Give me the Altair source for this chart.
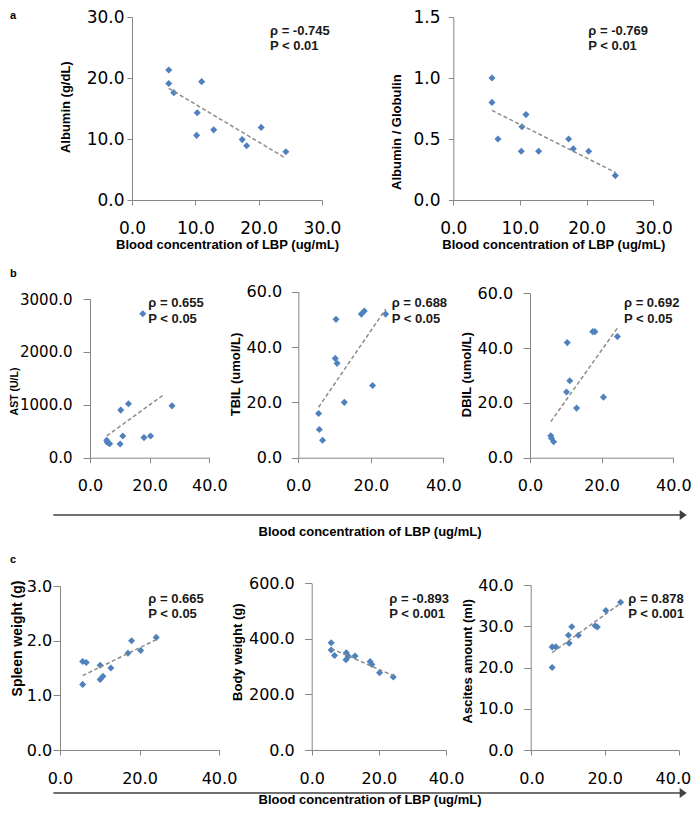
import altair as alt
import pandas as pd

# ---------------- data ----------------
LBP_LABEL = "Blood concentration of LBP (ug/mL)"

a1_x = [5.8, 5.8, 6.6, 11.0, 10.3, 10.2, 12.9, 17.4, 18.1, 20.4, 24.3]
a1_y = [21.3, 19.1, 17.6, 19.4, 14.3, 10.6, 11.5, 9.9, 8.9, 11.9, 7.9]
a2_x = [5.8, 5.8, 6.7, 10.9, 10.3, 10.2, 12.8, 17.3, 18.0, 20.3, 24.3]
a2_y = [1.0, 0.8, 0.5, 0.7, 0.6, 0.4, 0.4, 0.5, 0.42, 0.4, 0.2]
b1_x = [5.6, 5.8, 6.6, 10.3, 12.9, 11.0, 10.1, 17.7, 18.1, 20.3, 27.5]
b1_y = [330, 290, 265, 900, 1020, 410, 260, 2720, 380, 410, 980]
b2_x = [5.6, 5.8, 6.7, 10.4, 10.2, 10.7, 12.7, 17.4, 18.2, 20.5, 24.1]
b2_y = [16.0, 10.2, 6.3, 50.0, 35.9, 34.1, 20.0, 51.9, 53.0, 26.1, 51.9]
b3_x = [5.8, 6.0, 6.6, 10.4, 11.1, 10.2, 13.0, 17.5, 18.1, 20.5, 24.4]
b3_y = [8.0, 7.1, 5.8, 42.0, 28.1, 24.0, 18.1, 46.0, 46.0, 22.1, 44.2]
c1_x = [5.7, 6.6, 5.7, 10.1, 10.1, 10.8, 12.8, 17.1, 18.0, 20.3, 24.2]
c1_y = [1.62, 1.6, 1.2, 1.55, 1.29, 1.35, 1.5, 1.77, 2.0, 1.82, 2.06]
c2_x = [5.8, 5.8, 6.8, 10.3, 10.2, 10.9, 12.9, 17.4, 17.9, 20.2, 24.3]
c2_y = [386, 360, 340, 350, 325, 337, 338, 318, 308, 278, 263]
c3_x = [5.8, 5.8, 6.8, 11.1, 10.2, 10.4, 12.9, 17.4, 18.0, 20.3, 24.3]
c3_y = [25.0, 20.0, 25.0, 29.9, 27.8, 25.9, 27.8, 30.1, 29.8, 33.8, 35.8]

ann_a1 = ["ρ = -0.745", "P < 0.01"]
ann_a2 = ["ρ = -0.769", "P < 0.01"]
ann_b1 = ["ρ = 0.655", "P < 0.05"]
ann_b2 = ["ρ = 0.688", "P < 0.05"]
ann_b3 = ["ρ = 0.692", "P < 0.05"]
ann_c1 = ["ρ = 0.665", "P < 0.05"]
ann_c2 = ["ρ = -0.893", "P < 0.001"]
ann_c3 = ["ρ = 0.878", "P < 0.001"]

ticks_a_x = [0, 10, 20, 30]
ticks_bc_x = [0, 20, 40]

# ---------------- style / layout ----------------
BLUE = "#4F81BD"
AXC = "#868686"
TREND = "#8C8C8C"
ARROW = "#404040"
LABEL_FONT = "DejaVu Sans"
TITLE_FONT = "Liberation Sans"
OX, OY = 8, 8          # page offset of the drawing
VIEW_W, VIEW_H = 684, 799

one = pd.DataFrame({"k": [0]})


def panel(xs, ys, ann, *, X, T, W, H, xmax, xticks, ymax, yticks, ytitle,
          yt_right, yt_cy, yt_size, ylab_right, ytick, ylab_size,
          xlab_size, xlab_base, ann_x, ann_y, ann_lh,
          xtitle=None, xtitle_base=None, extent=None, xflush=None):
    x0 = X - OX
    x1 = x0 + W
    ytop = T - OY
    ybot = ytop + H
    df = pd.DataFrame({"x": xs, "y": ys})
    xaxis_kw = dict(orient="bottom", offset=ybot - VIEW_H, values=xticks,
                    format=".1f", grid=False, domainColor=AXC, tickColor=AXC,
                    tickSize=5, labelFont=LABEL_FONT, labelFontSize=xlab_size,
                    labelColor="black", labelBaseline="alphabetic",
                    labelPadding=xlab_base - (T + H) - 5,
                    labelFlush=False, labelOverlap=False)
    if xflush:
        xaxis_kw.update(labelFlush=True, labelFlushOffset=xflush)
    if xtitle:
        xaxis_kw.update(titleFont=TITLE_FONT, titleFontSize=13,
                        titleFontWeight="bold", titleColor="black",
                        titleBaseline="alphabetic",
                        titleY=xtitle_base - (T + H))
    xenc = alt.X("x:Q",
                 scale=alt.Scale(domain=[0, xmax], range=[x0, x1], nice=False),
                 axis=alt.Axis(**xaxis_kw), title=xtitle)
    yenc = alt.Y("y:Q",
                 scale=alt.Scale(domain=[0, ymax], range=[ybot, ytop], nice=False),
                 title=ytitle,
                 axis=alt.Axis(orient="left", offset=-x0, values=yticks,
                               format=".1f", grid=False,
                               domainColor=AXC, tickColor=AXC, tickSize=ytick,
                               labelFont=LABEL_FONT, labelFontSize=ylab_size,
                               labelColor="black",
                               labelPadding=X - ylab_right - ytick,
                               labelFlush=False, labelOverlap=False,
                               titleFont=TITLE_FONT, titleFontSize=yt_size,
                               titleFontWeight="bold", titleColor="black",
                               titleAngle=270, titleBaseline="bottom",
                               titleAlign="center",
                               titleX=yt_right - X, titleY=yt_cy - OY))
    pts = alt.Chart(df).mark_point(shape="diamond", filled=True, size=50,
                                   color=BLUE, opacity=1).encode(x=xenc, y=yenc)
    reg_kw = {"extent": extent} if extent else {}
    trend = (alt.Chart(df).transform_regression("x", "y", **reg_kw)
             .mark_line(color=TREND, strokeDash=[4, 2.5], strokeWidth=1.5)
             .encode(x=xenc, y=yenc))
    txt = alt.Chart(one).mark_text(
        align="left", baseline="alphabetic", font=TITLE_FONT, fontSize=13,
        fontWeight="bold", color="#1a1a1a", lineHeight=ann_lh
    ).encode(x=alt.value(ann_x - OX), y=alt.value(ann_y - OY),
             text=alt.value(ann))
    return [alt.layer(pts, trend), txt]


def letter(ch, px, py):
    return alt.Chart(one).mark_text(
        align="left", baseline="alphabetic", font=TITLE_FONT, fontSize=11,
        fontWeight="bold", color="black"
    ).encode(x=alt.value(px - OX), y=alt.value(py - OY), text=alt.value(ch))


def arrow(line_y, text_y):
    base = alt.Chart(pd.DataFrame({"t": [LBP_LABEL]}))
    rule = base.mark_rule(color=ARROW, strokeWidth=1.6).encode(
        x=alt.value(53.3 - OX), x2=alt.value(681.5 - OX),
        y=alt.value(line_y - OY))
    head = base.mark_point(shape="M1,0L-0.4,-1L-0.4,1Z", filled=True, size=100,
                           color=ARROW, opacity=1).encode(
        x=alt.value(686.7 - 5 - OX), y=alt.value(line_y - OY))
    txt = base.mark_text(align="center", baseline="alphabetic", font=TITLE_FONT,
                         fontSize=13, fontWeight="bold", color="black").encode(
        x=alt.value(370 - OX), y=alt.value(text_y - OY), text="t:N")
    return [rule, head, txt]


layers = []

# ---------------- row a ----------------
a_common = dict(T=17, H=183, xmax=30, xticks=ticks_a_x, yt_size=13, ytick=5,
                ylab_size=17, xlab_size=17, xlab_base=233.3, ann_lh=15,
                xtitle=LBP_LABEL, xtitle_base=248)
layers += panel(a1_x, a1_y, ann_a1, X=132, W=190, ymax=30,
                yticks=[0, 10, 20, 30], ytitle="Albumin (g/dL)", yt_right=72,
                yt_cy=106.7, ylab_right=124, ann_x=270, ann_y=35, **a_common)
layers += panel(a2_x, a2_y, ann_a2, X=453.3, W=200, ymax=1.5,
                yticks=[0, 0.5, 1.0, 1.5], ytitle="Albumin / Globulin",
                yt_right=403, yt_cy=131.7, ylab_right=440, ann_x=588.3,
                ann_y=35, **a_common)
layers.append(letter("a", 10, 19))

# ---------------- row b ----------------
b_common = dict(xmax=40, xticks=ticks_bc_x, ytick=7, xlab_size=16,
                xlab_base=490, ann_lh=16.6)
layers += panel(b1_x, b1_y, ann_b1, X=90, T=299, W=119.3, H=158.7, ymax=3000,
                yticks=[0, 1000, 2000, 3000], ytitle="AST (U/L)", yt_right=19.5,
                yt_cy=391, yt_size=10.5, ylab_right=72, ylab_size=15,
                ann_x=148.3, ann_y=306.7, extent=[5.6, 24.8], **b_common)
layers += panel(b2_x, b2_y, ann_b2, X=298.3, T=291.7, W=145, H=166, ymax=60,
                yticks=[0, 20, 40, 60], ytitle="TBIL (umol/L)", yt_right=243,
                yt_cy=374, yt_size=13, ylab_right=281.7, ylab_size=16,
                ann_x=391.7, ann_y=306.7, **b_common)
layers += panel(b3_x, b3_y, ann_b3, X=530, T=293.3, W=143.3, H=164.4, ymax=60,
                yticks=[0, 20, 40, 60], ytitle="DBIL (umol/L)", yt_right=473,
                yt_cy=374.2, yt_size=13, ylab_right=512.7, ylab_size=16,
                ann_x=624, ann_y=306.7, **b_common)
layers.append(letter("b", 10, 277))
layers += arrow(515, 536)

# ---------------- row c ----------------
c_common = dict(xmax=40, xticks=ticks_bc_x, ytick=7, ylab_size=16,
                xlab_size=16, xlab_base=783.3, ann_lh=15)
layers += panel(c1_x, c1_y, ann_c1, X=60, T=586, W=159, H=164, ymax=3,
                yticks=[0, 1, 2, 3], ytitle="Spleen weight (g)", yt_right=24,
                yt_cy=638, yt_size=14, ylab_right=51.7, ann_x=148.3,
                ann_y=603.3, **c_common)
layers += panel(c2_x, c2_y, ann_c2, X=311.7, T=583.3, W=134.3, H=166.7,
                ymax=600, yticks=[0, 200, 400, 600], ytitle="Body weight (g)",
                yt_right=244, yt_cy=651.7, yt_size=13, ylab_right=294.3,
                ann_x=389.3, ann_y=603.3, **c_common)
layers += panel(c3_x, c3_y, ann_c3, X=530.7, T=585, W=148, H=165, ymax=40,
                yticks=[0, 10, 20, 30, 40], ytitle="Ascites amount (ml)",
                yt_right=474, yt_cy=660.8, yt_size=13, ylab_right=513.3,
                ann_x=628.3, ann_y=603.3, xflush=12, **c_common)
layers.append(letter("c", 10, 563))
layers += arrow(793, 804)

chart = (alt.layer(*layers)
         .resolve_scale(x="independent", y="independent")
         .properties(width=VIEW_W, height=VIEW_H, padding=0,
                     autosize=alt.AutoSizeParams(type="none"))
         .configure_view(stroke=None))

chart.save("out.html", embed_options={"renderer": "svg", "actions": False})
